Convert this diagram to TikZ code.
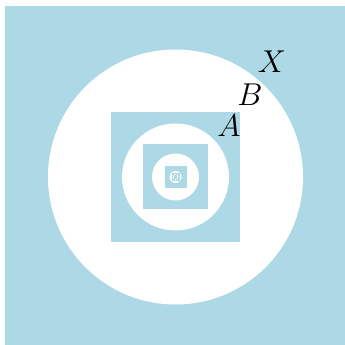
\documentclass[tikz,border=0pt]{standalone}
\usepackage{amsmath}
\usepackage{xcolor}
\usetikzlibrary{positioning, calc}
\definecolor{lblue}{HTML}{ADD8E6}
\begin{document}
\begin{tikzpicture}[x=0.38pt, y=0.38pt,
    blk/.style={fill=lblue, draw=none},
    hole/.style={fill=white, draw=none},
    lbl/.style={inner sep=0pt, font=\large}]
    \useasboundingbox (-175.5,-168) rectangle (169.5,177);
    \fill[blk] (-170.5,-168) rectangle (169.5,171);
    \fill[hole] (0,0) circle (127.5);
    \fill[blk] (-64.5,-64.5) rectangle (64.5,64.5);
    \fill[hole] (0,0) circle (53.5);
    \fill[blk] (-32.5,-32.5) rectangle (32.5,32.5);
    \fill[hole] (0,0) circle (23.5);
    \fill[blk] (-11,-11) rectangle (11,11);
    \fill[hole] (0,0) circle (6);
    \fill[blk] (-4,-4) rectangle (4,4);
    \fill[hole] (0,0) circle (2.8);
    \fill[blk] (-1.8,-1.8) rectangle (1.8,1.8);
    \node[lbl] (x) at (96.5,115) {$X$};
    \node[lbl] (b) at (74.5,82) {$B$};
    \node[lbl] (a) at (53.5,51) {$A$};
\end{tikzpicture}
\end{document}
